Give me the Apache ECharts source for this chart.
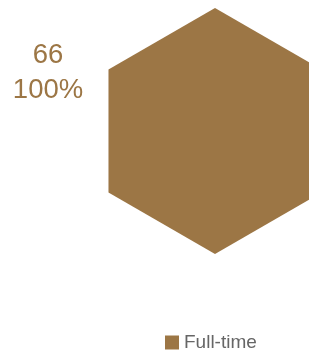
<!DOCTYPE html>
<html>
<head>
<meta charset="utf-8">
<script src="https://cdn.jsdelivr.net/npm/echarts@6/dist/echarts.min.js"></script>
<style>
  html, body { margin: 0; padding: 0; background: #fff; }
  #chart { width: 309px; height: 350px; }
</style>
</head>
<body>
<div id="chart"></div>
<script>
var categories = ['Full-time'];
var counts = [66];
var shares = [100];
var sides = 6;

var chart = echarts.init(document.getElementById('chart'));
var color = '#9c7645';

var indicators = [];
var values = [];
for (var i = 0; i < sides; i++) {
    indicators.push({ name: '', max: counts[0] });
    values.push(counts[0]);
}

chart.setOption({
    animation: false,
    color: [color],
    title: {
        text: counts[0] + '\n' + shares[0] + '%',
        left: 43,
        top: 33,
        textAlign: 'center',
        textStyle: {
            color: color,
            fontSize: 27.5,
            fontWeight: 'normal',
            fontFamily: 'Liberation Sans',
            lineHeight: 35
        }
    },
    legend: {
        data: categories,
        left: 160,
        top: 328,
        icon: 'rect',
        itemWidth: 14,
        itemHeight: 14,
        itemGap: 10,
        textStyle: {
            color: '#666',
            fontSize: 19,
            fontFamily: 'Liberation Sans'
        }
    },
    radar: {
        center: [215, 131],
        radius: 123,
        startAngle: 90,
        shape: 'polygon',
        splitNumber: 1,
        indicator: indicators,
        axisName: { show: false },
        axisLine: { show: false },
        splitLine: { show: false },
        splitArea: { show: false },
        axisTick: { show: false },
        axisLabel: { show: false }
    },
    series: [{
        type: 'radar',
        symbol: 'none',
        silent: true,
        lineStyle: { width: 0 },
        areaStyle: { color: color, opacity: 1 },
        data: [{ name: categories[0], value: values }]
    }]
});
window.addEventListener('resize', function () {
    chart.resize();
});
</script>
</body>
</html>
